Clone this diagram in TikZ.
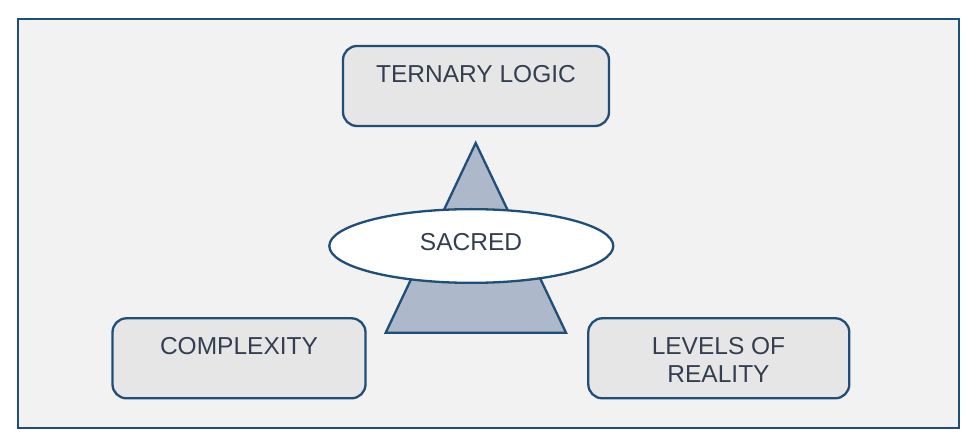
\documentclass[tikz,border=0pt]{standalone}
\usepackage{fontspec}
\setmainfont{Liberation Sans}
\usetikzlibrary{shapes.geometric}
\definecolor{bordblue}{HTML}{1F4E79}
\definecolor{boxfill}{HTML}{E7E6E6}
\definecolor{bgfill}{HTML}{F2F2F2}
\definecolor{trifill}{HTML}{ADB9CA}
\definecolor{txt}{HTML}{333F50}
\begin{document}
\begin{tikzpicture}[x=1pt,y=-1pt,
  conceptbox/.style={draw=bordblue,fill=boxfill,line width=2.3pt,rounded corners=14pt,inner sep=0pt},
  conceptlabel/.style={text=txt,font=\fontsize{24.5}{27.7}\selectfont,inner sep=0pt,align=center},
]
\useasboundingbox (0,0) rectangle (978,446);
\node[draw=bordblue,fill=bgfill,line width=2.8pt,inner sep=0pt,minimum width=941pt,minimum height=409pt] (frame) at (488.5,223.5) {};
% boxes
\node[conceptbox,minimum width=266pt,minimum height=80pt] (ternary) at (476,86) {};
\node[conceptbox,minimum width=253pt,minimum height=80pt] (complex) at (239,358.3) {};
\node[conceptbox,minimum width=261pt,minimum height=80pt] (levels) at (718.8,358.3) {};
\node[conceptlabel,anchor=base] (ternaryt) at (476,83) {TERNARY LOGIC};
\node[conceptlabel,anchor=base] (complext) at (239,355) {COMPLEXITY};
\node[conceptlabel,anchor=base] (levelst) at (718.5,382.7) {LEVELS OF\\REALITY};
% triangle
\coordinate (apex) at (475.7,143);
\coordinate (bl) at (385.7,332.7);
\coordinate (br) at (566,332.7);
\draw[bordblue,fill=trifill,line width=2.3pt,line join=miter] (apex) -- (br) -- (bl) -- cycle;
% ellipse
\node[ellipse,draw=bordblue,fill=white,line width=2.3pt,inner sep=0pt,minimum width=284pt,minimum height=73.7pt] (sacred) at (471.3,246) {};
\node[conceptlabel,anchor=base] (sacredt) at (471,251) {SACRED};
\end{tikzpicture}
\end{document}
